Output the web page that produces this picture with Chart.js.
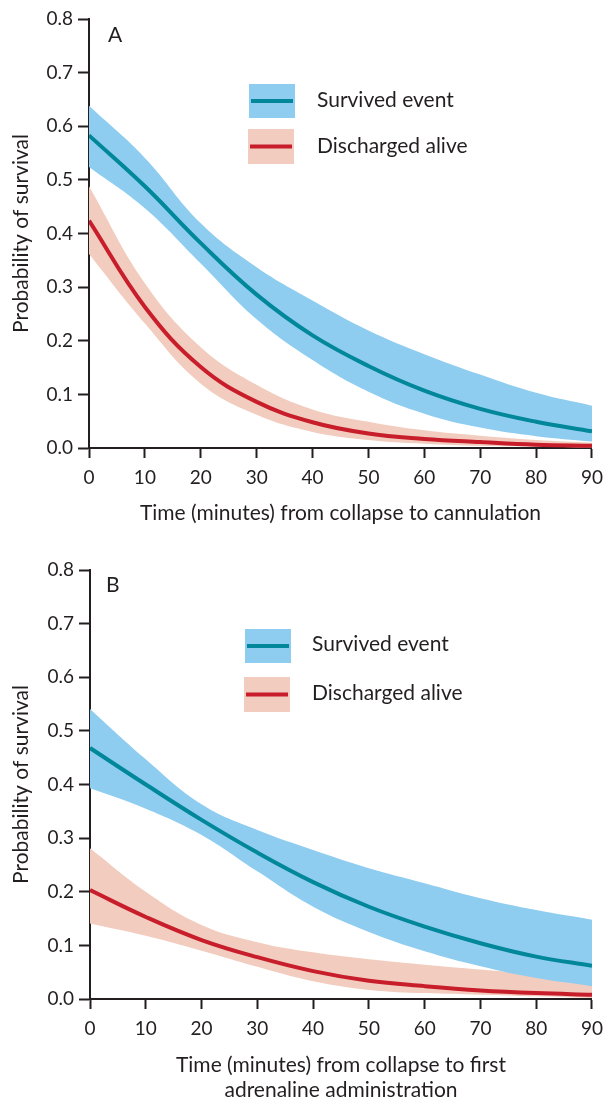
<!DOCTYPE html>
<html>
<head>
<meta charset="utf-8">
<script src="https://cdn.jsdelivr.net/npm/chart.js@4.4.1/dist/chart.umd.min.js"></script>
<style>
  html, body { margin: 0; padding: 0; background: #ffffff; }
  #wrap { position: relative; width: 611px; height: 1104px; overflow: hidden; }
  canvas { position: absolute; left: 0; }
  #cA { top: 0; }
  #cB { top: 550px; }
</style>
</head>
<body>
<div id="wrap">
  <canvas id="cA" width="611" height="530"></canvas>
  <canvas id="cB" width="611" height="554"></canvas>
</div>
<script>
// ---------- data ----------
const minutes = [0, 10, 20, 30, 40, 50, 60, 70, 80, 90];
const yTicks = [0, 0.1, 0.2, 0.3, 0.4, 0.5, 0.6, 0.7, 0.8];
const seriesNames = ['Survived event', 'Discharged alive'];

// Panel A: time from collapse to cannulation
const aSurvived      = [0.583, 0.488, 0.382, 0.286, 0.210, 0.153, 0.107, 0.073, 0.049, 0.031];
const aSurvivedHigh  = [0.638, 0.541, 0.419, 0.337, 0.275, 0.219, 0.175, 0.137, 0.103, 0.079];
const aSurvivedLow   = [0.524, 0.447, 0.344, 0.240, 0.164, 0.105, 0.064, 0.038, 0.022, 0.012];
const aDischarged     = [0.424, 0.263, 0.151, 0.086, 0.048, 0.027, 0.017, 0.011, 0.006, 0.004];
const aDischargedHigh = [0.488, 0.307, 0.188, 0.118, 0.072, 0.049, 0.033, 0.023, 0.015, 0.010];
const aDischargedLow  = [0.362, 0.232, 0.120, 0.062, 0.030, 0.015, 0.008, 0.004, 0.002, 0.001];

// Panel B: time from collapse to first adrenaline administration
const bSurvived      = [0.468, 0.400, 0.334, 0.273, 0.218, 0.172, 0.135, 0.104, 0.079, 0.062];
const bSurvivedHigh  = [0.541, 0.447, 0.363, 0.315, 0.278, 0.244, 0.216, 0.188, 0.166, 0.148];
const bSurvivedLow   = [0.393, 0.355, 0.306, 0.238, 0.172, 0.125, 0.089, 0.061, 0.039, 0.024];
const bDischarged     = [0.203, 0.153, 0.110, 0.078, 0.052, 0.034, 0.024, 0.016, 0.011, 0.008];
const bDischargedHigh = [0.281, 0.200, 0.138, 0.106, 0.087, 0.074, 0.064, 0.055, 0.046, 0.037];
const bDischargedLow  = [0.141, 0.118, 0.090, 0.060, 0.033, 0.017, 0.011, 0.008, 0.005, 0.002];

const aTitle = 'Time (minutes) from collapse to cannulation';
const bTitle = ['Time (minutes) from collapse to first', 'adrenaline administration'];
const yTitle = 'Probability of survival';

// ---------- styles ----------
const TEXT = '#231f20';
const TEAL = '#00879a';
const BLUE_BAND = '#8fcdf0';
const RED = '#c81d2a';
const SALMON_BAND = '#f2cdbf';
const FONT = 'Lato, "Open Sans", sans-serif';

function pts(ys) { return minutes.map((x, i) => ({ x: x, y: ys[i] })); }

const overlayPlugin = {
  id: 'overlay',
  afterDraw(chart, args, o) {
    const { ctx, chartArea: a } = chart;
    ctx.save();
    ctx.textBaseline = 'middle';
    ctx.textAlign = 'left';
    ctx.font = '21px ' + FONT;
    ctx.fillStyle = TEXT;
    ctx.fillText(o.panel, a.left + o.panelDx, a.top + o.panelDy);
    o.items.forEach(it => {
      ctx.fillStyle = it.fill;
      ctx.fillRect(it.x, a.top + it.y, it.w, it.h);
      ctx.strokeStyle = it.line;
      ctx.lineWidth = 4;
      ctx.lineCap = 'butt';
      ctx.beginPath();
      ctx.moveTo(it.x + 2, a.top + it.y + it.h / 2);
      ctx.lineTo(it.x + it.w - 2, a.top + it.y + it.h / 2);
      ctx.stroke();
      ctx.fillStyle = TEXT;
      ctx.font = '21px ' + FONT;
      ctx.fillText(it.label, it.tx, a.top + it.ty);
    });
    ctx.restore();
  }
};

function makeChart(canvasId, d, cfg) {
  const lineBase = { pointRadius: 0, pointHoverRadius: 0, tension: 0.4, borderCapStyle: 'butt' };
  return new Chart(document.getElementById(canvasId), {
    type: 'line',
    data: {
      datasets: [
        Object.assign({}, lineBase, { label: seriesNames[1], data: pts(d.dis), borderColor: RED, borderWidth: 4, fill: false, order: 0 }),
        Object.assign({}, lineBase, { label: seriesNames[0], data: pts(d.sur), borderColor: TEAL, borderWidth: 4, fill: false, order: 1 }),
        Object.assign({}, lineBase, { label: seriesNames[0] + ' upper', data: pts(d.surHi), borderWidth: 0, borderColor: 'rgba(0,0,0,0)', backgroundColor: BLUE_BAND, fill: '+1', order: 2 }),
        Object.assign({}, lineBase, { label: seriesNames[0] + ' lower', data: pts(d.surLo), borderWidth: 0, borderColor: 'rgba(0,0,0,0)', fill: false, order: 3 }),
        Object.assign({}, lineBase, { label: seriesNames[1] + ' upper', data: pts(d.disHi), borderWidth: 0, borderColor: 'rgba(0,0,0,0)', backgroundColor: SALMON_BAND, fill: '+1', order: 4 }),
        Object.assign({}, lineBase, { label: seriesNames[1] + ' lower', data: pts(d.disLo), borderWidth: 0, borderColor: 'rgba(0,0,0,0)', fill: false, order: 5 })
      ]
    },
    options: {
      responsive: false,
      animation: false,
      devicePixelRatio: 1,
      layout: { padding: { left: 0, right: cfg.padRight, top: cfg.padTop, bottom: 0 } },
      plugins: {
        legend: { display: false },
        tooltip: { enabled: false },
        overlay: cfg.overlay
      },
      scales: {
        x: {
          type: 'linear',
          min: 0, max: 90,
          afterBuildTicks: s => { s.ticks = minutes.map(v => ({ value: v })); },
          afterFit: s => { s.height = cfg.xHeight; },
          grid: { display: true, drawOnChartArea: false, drawTicks: true, tickLength: 10, tickWidth: 2, color: TEXT },
          border: { display: true, width: 2, color: TEXT },
          ticks: { color: TEXT, font: { family: FONT, size: 19 }, padding: 8, maxRotation: 0, callback: v => String(v) },
          title: { display: true, text: cfg.xTitle, color: TEXT, font: { family: FONT, size: 21, lineHeight: 1.16 }, padding: { top: 0, bottom: cfg.xTitlePad } }
        },
        y: {
          type: 'linear',
          min: 0, max: 0.8,
          afterBuildTicks: s => { s.ticks = yTicks.map(v => ({ value: v })); },
          afterFit: s => { s.width = cfg.yWidth; },
          grid: { display: true, drawOnChartArea: false, drawTicks: true, tickLength: 11, tickWidth: 2, color: TEXT },
          border: { display: true, width: 2, color: TEXT },
          ticks: { color: TEXT, font: { family: FONT, size: 19 }, padding: 5, callback: v => Number(v).toFixed(1) },
          title: { display: true, text: yTitle, color: TEXT, font: { family: FONT, size: 21, lineHeight: 1.2 }, padding: { top: 9, bottom: 0 } }
        }
      }
    },
    plugins: [overlayPlugin]
  });
}

function build() {
  makeChart('cA', {
    sur: aSurvived, surHi: aSurvivedHigh, surLo: aSurvivedLow,
    dis: aDischarged, disHi: aDischargedHigh, disLo: aDischargedLow
  }, {
    padRight: 16, padTop: 19, xHeight: 82, yWidth: 89, xTitle: aTitle, xTitlePad: 5,
    overlay: {
      panel: 'A', panelDx: 19, panelDy: 16,
      items: [
        { label: seriesNames[0], fill: BLUE_BAND, line: TEAL, x: 249, y: 65, w: 46, h: 34, tx: 317, ty: 81 },
        { label: seriesNames[1], fill: SALMON_BAND, line: RED, x: 248, y: 110, w: 46, h: 35, tx: 317, ty: 127 }
      ]
    }
  });
  makeChart('cB', {
    sur: bSurvived, surHi: bSurvivedHigh, surLo: bSurvivedLow,
    dis: bDischarged, disHi: bDischargedHigh, disLo: bDischargedLow
  }, {
    padRight: 14, padTop: 20, xHeight: 105, yWidth: 90, xTitle: bTitle, xTitlePad: 2,
    overlay: {
      panel: 'B', panelDx: 16, panelDy: 15,
      items: [
        { label: seriesNames[0], fill: BLUE_BAND, line: TEAL, x: 245, y: 59, w: 46, h: 34, tx: 312, ty: 74 },
        { label: seriesNames[1], fill: SALMON_BAND, line: RED, x: 244, y: 107, w: 46, h: 35, tx: 312, ty: 123 }
      ]
    }
  });
}

if (document.fonts && document.fonts.load) {
  Promise.all([document.fonts.load('21px Lato'), document.fonts.load('19px Lato')]).then(build, build);
} else {
  build();
}
</script>
</body>
</html>
